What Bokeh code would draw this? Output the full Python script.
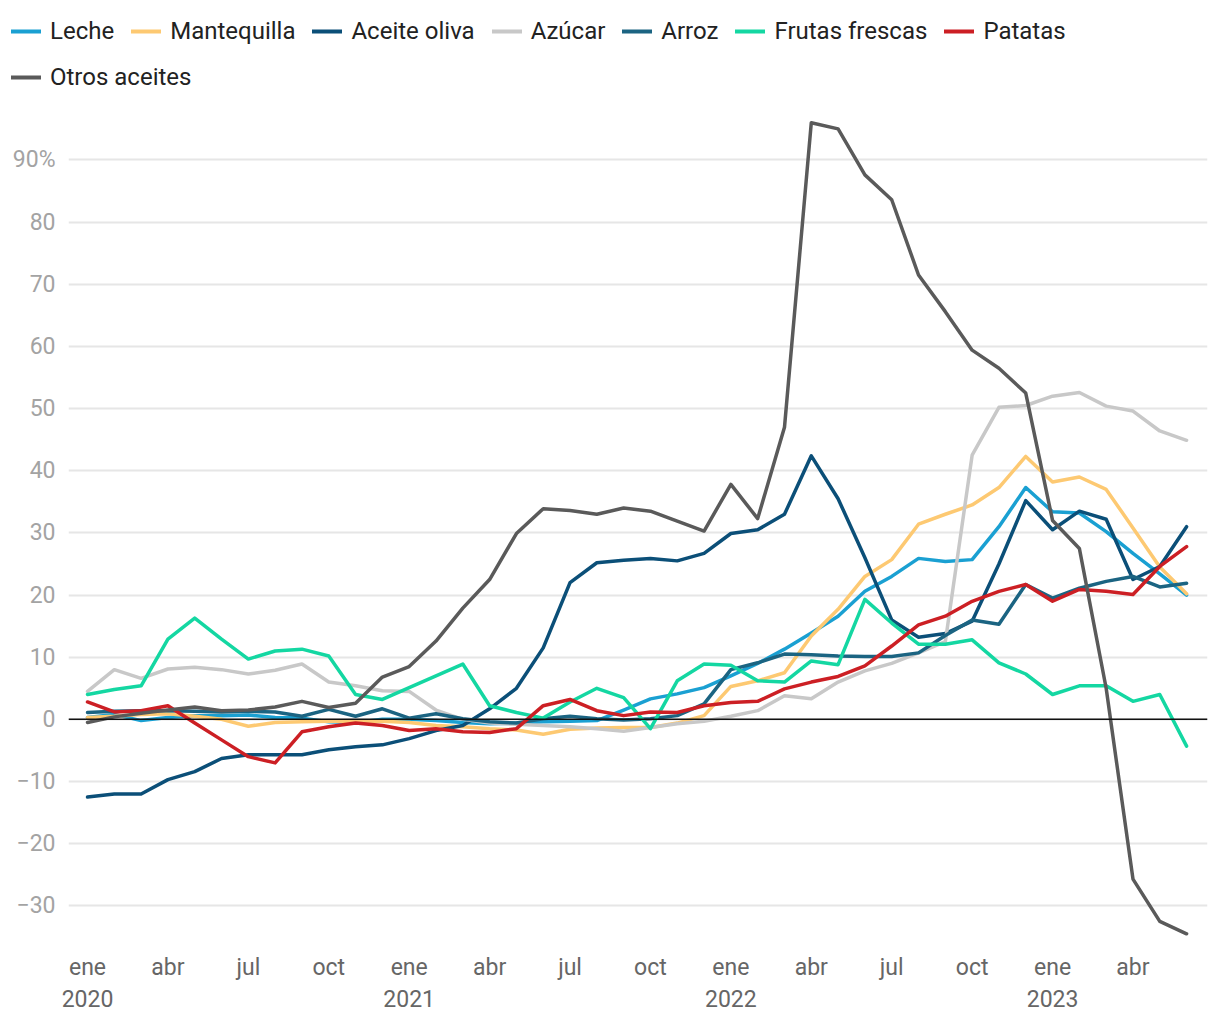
from bokeh.plotting import figure
from bokeh.layouts import column
from bokeh.models import Legend, LegendItem, FixedTicker, Span, Range1d
from bokeh.embed import file_html
from bokeh.resources import INLINE

# Months Jan 2020 .. Jun 2023 (index 0..41)
months = list(range(42))
tick_pos = [0, 3, 6, 9, 12, 15, 18, 21, 24, 27, 30, 33, 36, 39]
tick_labels = ["ene\n2020", "abr", "jul", "oct", "ene\n2021", "abr", "jul", "oct",
               "ene\n2022", "abr", "jul", "oct", "ene\n2023", "abr"]
y_ticks = [-30, -20, -10, 0, 10, 20, 30, 40, 50, 60, 70, 80, 90]
y_labels = ["\u221230", "\u221220", "\u221210", "0", "10", "20", "30", "40", "50", "60", "70", "80", "90%"]

leche = [0.3, 0.8, -0.2, 0.3, 0.6, 0.6, 0.7, 0.3, 0.2, -0.4, -0.5, 0.0,
         0.0, -0.2, -0.5, -0.7, -0.6, -0.4, -0.3, -0.2, 1.5, 3.3, 4.1, 5.1,
         7.0, 9.0, 11.3, 13.9, 16.6, 20.6, 23.0, 25.9, 25.4, 25.7, 31.0, 37.3,
         33.4, 33.2, 30.2, 26.7, 23.4, 20.0]
mantequilla = [0.3, 0.5, 0.8, 0.9, 0.5, 0.0, -1.1, -0.5, -0.4, -0.3, -0.3, -0.3,
               -0.5, -1.0, -1.2, -1.5, -1.7, -2.4, -1.6, -1.4, -1.3, -1.3, -0.6, 0.6,
               5.3, 6.2, 7.5, 13.4, 17.7, 23.0, 25.7, 31.4, 33.0, 34.5, 37.3, 42.3,
               38.2, 39.0, 37.0, 30.8, 24.5, 20.2]
aceite_oliva = [-12.5, -12.0, -12.0, -9.7, -8.4, -6.3, -5.7, -5.7, -5.7, -4.9, -4.4, -4.1,
                -3.1, -1.8, -1.0, 1.7, 5.0, 11.5, 22.0, 25.2, 25.6, 25.9, 25.5, 26.7,
                29.9, 30.5, 33.0, 42.4, 35.5, 26.0, 16.0, 13.2, 13.8, 15.8, 25.0, 35.2,
                30.5, 33.5, 32.2, 22.5, 24.6, 31.0]
azucar = [4.5, 8.0, 6.6, 8.1, 8.4, 8.0, 7.3, 7.9, 8.9, 6.0, 5.4, 4.6,
          4.5, 1.5, 0.0, -0.6, -0.8, -1.0, -1.2, -1.5, -1.9, -1.3, -0.7, -0.3,
          0.5, 1.4, 3.8, 3.3, 6.0, 7.8, 9.0, 10.7, 12.5, 42.5, 50.2, 50.5,
          52.0, 52.6, 50.4, 49.6, 46.4, 44.9]
arroz = [1.1, 1.3, 1.4, 1.4, 1.3, 1.2, 1.3, 1.2, 0.5, 1.6, 0.5, 1.7,
         0.2, 0.9, 0.1, -0.4, -0.6, 0.1, 0.5, 0.1, -0.1, 0.1, 0.6, 2.5,
         8.0, 9.1, 10.5, 10.4, 10.2, 10.1, 10.1, 10.7, 13.5, 16.0, 15.3, 21.7,
         19.5, 21.1, 22.2, 23.0, 21.3, 21.9]
frutas = [4.0, 4.8, 5.4, 12.9, 16.3, 12.9, 9.7, 11.0, 11.3, 10.2, 4.0, 3.2,
          5.1, 7.0, 8.9, 2.2, 1.1, 0.2, 2.8, 5.0, 3.5, -1.5, 6.2, 8.9,
          8.7, 6.2, 6.0, 9.4, 8.8, 19.3, 15.5, 12.1, 12.1, 12.8, 9.1, 7.3,
          4.0, 5.4, 5.4, 2.9, 4.0, -4.3]
patatas = [2.8, 1.2, 1.4, 2.2, -0.6, -3.3, -6.0, -7.0, -2.0, -1.2, -0.6, -1.0,
           -1.8, -1.5, -2.0, -2.1, -1.5, 2.2, 3.2, 1.4, 0.6, 1.2, 1.1, 2.2,
           2.7, 2.9, 4.9, 6.0, 6.9, 8.6, 11.8, 15.2, 16.6, 19.0, 20.6, 21.7,
           19.0, 20.9, 20.6, 20.1, 24.6, 27.8]
otros_aceites = [-0.5, 0.4, 1.0, 1.5, 2.0, 1.4, 1.5, 2.0, 2.9, 1.9, 2.6, 6.8,
                 8.5, 12.6, 17.9, 22.5, 29.9, 33.9, 33.6, 33.0, 34.0, 33.5, 31.9, 30.3,
                 37.8, 32.3, 47.0, 96.0, 95.0, 87.6, 83.6, 71.5, 65.6, 59.4, 56.5, 52.5,
                 32.0, 27.5, 5.0, -25.7, -32.5, -34.5]

series_names = ["Leche", "Mantequilla", "Aceite oliva", "Azúcar", "Arroz",
                "Frutas frescas", "Patatas", "Otros aceites"]
series_values = [leche, mantequilla, aceite_oliva, azucar, arroz, frutas, patatas, otros_aceites]
series_colors = ["#1aa0d2", "#fdc972", "#0b4f78", "#c8c8c8", "#1b6482",
                 "#14d7a2", "#cc1f24", "#5a5a5a"]

FONT = "Roboto"
W = 1212

# ---- legend strip (top): series drawn outside its view, used only as legend keys ----
LEG_H = 100
pl = figure(width=W, height=LEG_H, output_backend="svg", toolbar_location=None,
            x_axis_location=None, y_axis_location=None,
            x_range=Range1d(0, 1), y_range=Range1d(500, 501),
            min_border=0, min_border_left=0, min_border_right=0,
            min_border_top=0, min_border_bottom=0)
pl.frame_align = False
pl.grid.visible = False
pl.outline_line_color = None

leg_renderers = []
for name, vals, col in zip(series_names, series_values, series_colors):
    r = pl.line(months, vals, line_color=col, line_width=4, line_cap="round")
    leg_renderers.append(r)

def make_legend(items, loc):
    return Legend(items=items, orientation="horizontal", location=loc,
                  label_text_font=FONT, label_text_font_size="24px",
                  label_text_color="#222222", glyph_width=30, glyph_height=26,
                  label_standoff=9, spacing=17, padding=0, margin=0,
                  border_line_alpha=0, background_fill_alpha=0)

items = [LegendItem(label=n, renderers=[r]) for n, r in zip(series_names, leg_renderers)]
ROW_H = 28
leg1 = make_legend(items[:7], (11, LEG_H - 17 - ROW_H))
leg2 = make_legend(items[7:], (11, LEG_H - 63 - ROW_H))
pl.add_layout(leg1, "center")
pl.add_layout(leg2, "center")

# ---- main chart ----
p = figure(width=W, height=915, output_backend="svg", toolbar_location=None,
           x_range=Range1d(-0.709, 41.78), y_range=Range1d(-35.74, 99.57),
           min_border_left=68, min_border_right=5, min_border_top=0, min_border_bottom=67)
p.frame_align = False
p.outline_line_color = None

p.xgrid.grid_line_color = None
p.ygrid.grid_line_color = "#e6e6e6"
p.ygrid.grid_line_width = 2

for name, vals, col in zip(series_names, series_values, series_colors):
    p.line(months, vals, line_color=col, line_width=3.5,
           line_join="round", line_cap="round")

p.add_layout(Span(location=0, dimension="width", line_color="#111111", line_width=1.5))

p.xaxis.ticker = FixedTicker(ticks=tick_pos)
p.xaxis.major_label_overrides = {t: l for t, l in zip(tick_pos, tick_labels)}
p.xaxis.axis_line_color = None
p.xaxis.major_tick_line_color = None
p.xaxis.minor_tick_line_color = None
p.xaxis.major_label_text_font = FONT
p.xaxis.major_label_text_font_size = "23px"
p.xaxis.major_label_text_color = "#666666"
p.xaxis.major_label_standoff = 6

p.yaxis.ticker = FixedTicker(ticks=y_ticks)
p.yaxis.major_label_overrides = {t: l for t, l in zip(y_ticks, y_labels)}
p.yaxis.axis_line_color = None
p.yaxis.major_tick_line_color = None
p.yaxis.minor_tick_line_color = None
p.yaxis.major_label_text_font = FONT
p.yaxis.major_label_text_font_size = "23px"
p.yaxis.major_label_text_color = "#a3a3a3"
p.yaxis.major_label_standoff = 7

layout = column(pl, p, spacing=0)
open("out.html", "w").write(file_html(layout, INLINE))
